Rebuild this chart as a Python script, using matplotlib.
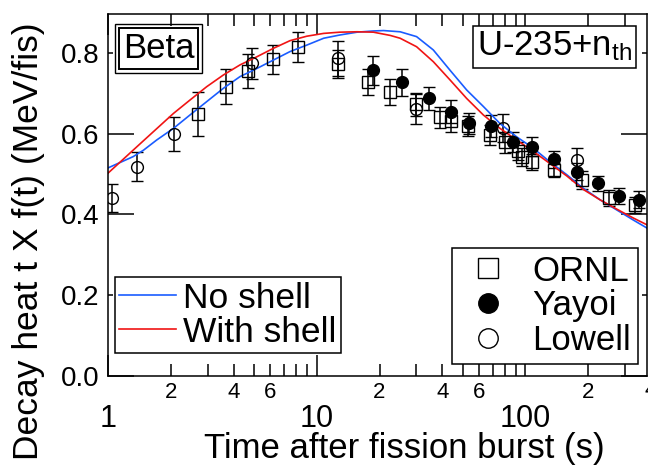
import matplotlib
matplotlib.use("Agg")
import math
import matplotlib.pyplot as plt
from matplotlib.lines import Line2D
from matplotlib.ticker import FixedLocator, FuncFormatter
import matplotlib.transforms as mtransforms

plt.rcParams['font.family'] = ['Liberation Sans', 'DejaVu Sans']
plt.rcParams['mathtext.fontset'] = 'custom'
plt.rcParams['mathtext.rm'] = 'Liberation Sans'
plt.rcParams['mathtext.it'] = 'Liberation Sans:italic'

# ---- data ----
noshell_t = [1.0, 1.32, 1.48, 1.71, 2.06, 2.47, 2.97, 3.57, 4.29, 5.16, 6.2, 7.45, 8.96, 10.8,
             12.9, 15.6, 18.7, 20.9, 25.1, 30.1, 36.2, 43.5, 52.3, 62.9, 75.5, 90.8, 109, 131,
             158, 189, 228, 274, 329, 383]
noshell_v = [0.515, 0.543, 0.559, 0.584, 0.613, 0.646, 0.679, 0.712, 0.741, 0.761, 0.782, 0.803,
             0.819, 0.836, 0.844, 0.851, 0.854, 0.855, 0.852, 0.840, 0.807, 0.757, 0.708, 0.667,
             0.625, 0.592, 0.564, 0.530, 0.498, 0.465, 0.436, 0.411, 0.386, 0.366]
shell_t = [1.0, 1.18, 1.42, 1.71, 2.06, 2.47, 2.97, 3.57, 4.29, 5.16, 6.2, 7.45, 8.96, 10.8,
           12.9, 15.6, 18.7, 22.5, 25.1, 30.1, 36.2, 43.5, 52.3, 62.9, 75.5, 90.8, 109, 131,
           158, 189, 228, 274, 329, 383]
shell_v = [0.502, 0.536, 0.574, 0.612, 0.650, 0.683, 0.716, 0.745, 0.770, 0.790, 0.811, 0.830,
           0.841, 0.848, 0.851, 0.852, 0.851, 0.843, 0.836, 0.815, 0.778, 0.733, 0.687, 0.646,
           0.613, 0.584, 0.556, 0.526, 0.495, 0.462, 0.436, 0.413, 0.391, 0.374]

ornl_t = [2.71, 3.68, 4.67, 6.15, 8.16, 12.6, 17.6, 22.5, 29.9, 39.0, 44.0, 52.9, 67.7, 80.0,
          92.5, 96.7, 108, 137, 186, 252, 335]
ornl_v = [0.649, 0.716, 0.756, 0.784, 0.815, 0.772, 0.728, 0.702, 0.672, 0.640, 0.632, 0.618,
          0.597, 0.578, 0.556, 0.543, 0.530, 0.510, 0.486, 0.440, 0.423]
ornl_e = [0.054, 0.043, 0.042, 0.036, 0.037, 0.035, 0.032, 0.032, 0.028, 0.027, 0.027, 0.025,
          0.025, 0.025, 0.022, 0.022, 0.020, 0.018, 0.022, 0.020, 0.020]

yayoi_t = [18.7, 25.7, 34.7, 44.0, 53.7, 68.4, 87.5, 108, 137, 176, 223, 281, 350]
yayoi_v = [0.757, 0.727, 0.687, 0.654, 0.625, 0.619, 0.580, 0.568, 0.537, 0.506, 0.477, 0.446, 0.436]
yayoi_e = [0.036, 0.033, 0.029, 0.029, 0.027, 0.028, 0.025, 0.023, 0.021, 0.021, 0.019, 0.020, 0.021]

lowell_t = [1.04, 1.38, 2.08, 4.88, 12.6, 29.9, 77.8, 176]
lowell_v = [0.441, 0.518, 0.598, 0.774, 0.786, 0.660, 0.613, 0.535]
lowell_e = [0.034, 0.036, 0.042, 0.038, 0.043, 0.037, 0.035, 0.029]

x_major = [1, 10, 100]
x_major_labels = ['1', '10', '100']
x_minor = [2, 3, 4, 5, 6, 7, 8, 9, 20, 30, 40, 50, 60, 70, 80, 90, 200, 300]
x_minor_labeled = [2, 4, 6]
y_long = [0.0, 0.4, 0.6]
y_short = [0.2, 0.8]

BLUE = '#1a5cff'
RED = '#f01414'

fig = plt.figure(figsize=(6.48, 4.71), dpi=100)
ax = fig.add_axes([108/648, 95/471, 539/648, 362/471])
ax.set_xscale('log')
ax.set_xlim(1, 382.5)
ax.set_ylim(0, 0.896)

ebkw = dict(ls='none', ecolor='black', elinewidth=1.1, capsize=4.5, capthick=1.1)
ax.errorbar(ornl_t, ornl_v, yerr=ornl_e, marker='s', ms=8, mfc='none', mec='black', mew=1.0, **ebkw)
ax.errorbar(lowell_t, lowell_v, yerr=lowell_e, marker='o', ms=8.5, mfc='none', mec='black', mew=1.0, **ebkw)
ax.errorbar(yayoi_t, yayoi_v, yerr=yayoi_e, marker='o', ms=8.5, mfc='black', mec='black', mew=1.0, **ebkw)

ax.plot(noshell_t, noshell_v, color=BLUE, lw=1.2)
ax.plot(shell_t, shell_v, color=RED, lw=1.2)

# ticks
for s in ax.spines.values():
    s.set_linewidth(1.1)
ax.xaxis.set_major_locator(FixedLocator(x_major))
ax.xaxis.set_major_formatter(FuncFormatter(
    lambda v, p: x_major_labels[x_major.index(round(v))] if round(v) in x_major else ''))
ax.xaxis.set_minor_locator(FixedLocator(x_minor))


def minor_fmt(v, p):
    d = int(round(v / 10 ** math.floor(math.log10(v) + 1e-9)))
    return str(d) if d in x_minor_labeled else ''


ax.xaxis.set_minor_formatter(FuncFormatter(minor_fmt))
ax.tick_params(axis='x', which='major', direction='in', length=15, width=1.1, top=True,
               labelsize=22, pad=20)
ax.tick_params(axis='x', which='minor', direction='in', length=8.5, width=1.1, top=True,
               labelsize=16, pad=4)
ax.set_yticks(y_long)
ax.set_yticklabels([f'{v:.1f}' for v in y_long])
ax.set_yticks(y_short, minor=True)
ax.set_yticklabels([f'{v:.1f}' for v in y_short], minor=True)
ax.tick_params(axis='y', which='major', direction='in', length=18.5, width=1.1, right=True,
               labelsize=20, pad=6)
ax.tick_params(axis='y', which='minor', direction='in', length=3.6, width=1.1, right=True,
               labelsize=20, pad=6)
# partially visible "4" tick label at 400, beyond the right edge (cut as in the reference)
trans = mtransforms.blended_transform_factory(ax.transData, ax.transAxes)
ax.text(400, -0.012, '4', transform=trans, ha='center', va='top', fontsize=16, clip_on=False)

ax.set_xlabel('Time after fission burst (s)', fontsize=25)
ax.xaxis.set_label_coords(0.55, -0.155)
ax.set_ylabel('Decay heat t X f(t) (MeV/fis)', fontsize=25.5)
ax.yaxis.set_label_coords(-0.116, 0.372)

# Beta box (double frame)
ax.text(0.0937, 0.905, 'Beta', transform=ax.transAxes, ha='center', va='center', fontsize=25,
        bbox=dict(boxstyle='square,pad=0.12', fc='white', ec='black', lw=1.4))
ax.text(0.0937, 0.905, 'Beta', transform=ax.transAxes, ha='center', va='center', fontsize=25,
        color='none', bbox=dict(boxstyle='square,pad=0.22', fc='none', ec='black', lw=1.0))
ax.text(0.828, 0.91, 'U-235+n$_{\\mathrm{th}}$', transform=ax.transAxes, ha='center', va='center',
        fontsize=25, bbox=dict(boxstyle='square,pad=0.12', fc='white', ec='black', lw=1.1))

h1 = [Line2D([], [], color=BLUE, lw=1.2), Line2D([], [], color=RED, lw=1.2)]
leg1 = ax.legend(h1, ['No shell', 'With shell'], loc='lower left', bbox_to_anchor=(0.013, 0.0635),
                 borderaxespad=0, fontsize=25.5, frameon=True, fancybox=False, framealpha=1,
                 edgecolor='black', handlelength=1.6, handletextpad=0.2, borderpad=0.12,
                 labelspacing=0.03)
leg1.get_frame().set_linewidth(1.1)
ax.add_artist(leg1)

h2 = [Line2D([], [], ls='none', marker='s', ms=14, mfc='none', mec='black', mew=1.0),
      Line2D([], [], ls='none', marker='o', ms=14, mfc='black', mec='black', mew=1.0),
      Line2D([], [], ls='none', marker='o', ms=14, mfc='none', mec='black', mew=1.0)]
leg2 = ax.legend(h2, ['ORNL', 'Yayoi', 'Lowell'], loc='lower right', bbox_to_anchor=(0.983, 0.033),
                 borderaxespad=0, fontsize=25, frameon=True, fancybox=False, framealpha=1,
                 edgecolor='black', handlelength=1.67, handletextpad=0.43, borderpad=0.2,
                 labelspacing=0.05)
leg2.get_frame().set_linewidth(1.1)

fig.savefig('out.png', dpi=100)
